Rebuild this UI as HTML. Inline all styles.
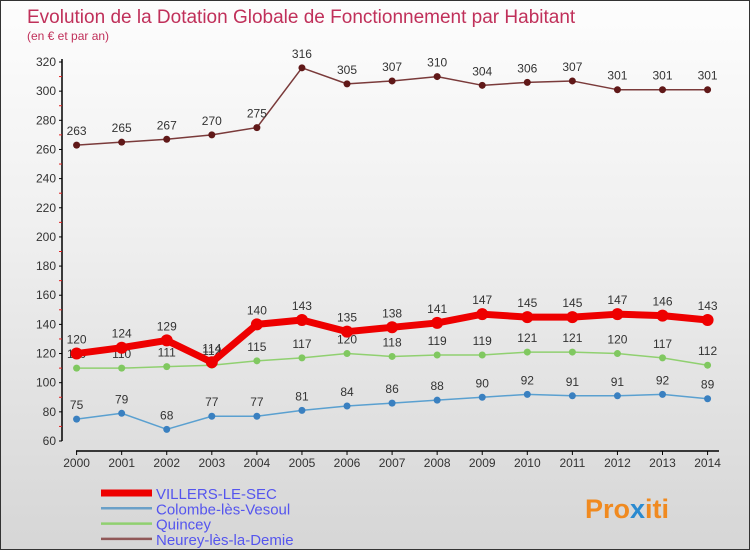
<!DOCTYPE html>
<html><head><meta charset="utf-8"><style>
body{margin:0;}
#c{width:748px;height:548px;border:1px solid #333;background:linear-gradient(#fdfdfd,#f0f0f0 40%,#d6d6d6);position:relative;overflow:hidden;font-family:"Liberation Sans","DejaVu Sans",sans-serif;}
svg{position:absolute;left:0;top:0}
</style></head><body>
<div id="c">
<svg id="s" width="750" height="550">
<text x="26" y="22" font-size="19" fill="#c0305a">Evolution de la Dotation Globale de Fonctionnement par Habitant</text>
<text x="26" y="39" font-size="12" fill="#c0305a">(en € et par an)</text>
<g id="axes"></g><g id="series"></g><g id="legend"></g>
<text x="584" y="517" font-size="27" font-weight="bold" fill="#f08a20">Pro<tspan fill="#2a8ad0">x</tspan>iti</text>
</svg>
</div>
<script>
const years=[2000,2001,2002,2003,2004,2005,2006,2007,2008,2009,2010,2011,2012,2013,2014];
const villers=[120,124,129,114,140,143,135,138,141,147,145,145,147,146,143];
const colombe=[75,79,68,77,77,81,84,86,88,90,92,91,91,92,89];
const quincey=[110,110,111,112,115,117,120,118,119,119,121,121,120,117,112];
const neurey=[263,265,267,270,275,316,305,307,310,304,306,307,301,301,301];
const yTicks=[60,80,100,120,140,160,180,200,220,240,260,280,300,320];
const NS='http://www.w3.org/2000/svg';
const X=i=>75.6+i*45.07, Y=v=>440-(v-60)*(379/260);
function mk(t,a,p){const e=document.createElementNS(NS,t);for(const k in a)e.setAttribute(k,a[k]);p.appendChild(e);return e;}
const ax=document.getElementById('axes');
let l=mk('line',{x1:61,y1:58,x2:61,y2:440,stroke:'#000','stroke-width':1.5},ax);


l=mk('line',{x1:75,y1:450,x2:718,y2:450,stroke:'#000','stroke-width':1.5},ax);


yTicks.forEach(v=>{mk('line',{x1:58,x2:61,y1:Y(v),y2:Y(v),stroke:'#000'},ax);
 if(v<320)mk('line',{x1:58,x2:61,y1:Y(v+10),y2:Y(v+10),stroke:'#e02020'},ax);
 const t=mk('text',{x:55,y:Y(v)+4,'font-size':12,fill:'#333','text-anchor':'end'},ax);t.textContent=v;
 
 });
years.forEach((y,i)=>{mk('line',{x1:X(i),x2:X(i),y1:450,y2:454,stroke:'#000'},ax);
 const t=mk('text',{x:X(i),y:466,'font-size':12,fill:'#333','text-anchor':'middle'},ax);t.textContent=y;
 
 });
const sg=document.getElementById('series');
function series(vals,color,w,r,dot,name){
 const g=mk('g',{},sg);
 
 
 mk('polyline',{points:vals.map((v,i)=>X(i)+','+Y(v)).join(' '),fill:'none',stroke:color,'stroke-width':w,'stroke-linejoin':'round'},g);
 vals.forEach((v,i)=>{const c=mk('circle',{cx:X(i),cy:Y(v),r:r,fill:dot},g);
  
  
  const t=mk('text',{x:X(i),y:Y(v)-10,'font-size':12,fill:'#333','text-anchor':'middle'},g);t.textContent=v;
  
  });
}
series(colombe,'#5aa0d0',1.5,3.5,'#3a80c0','series-colombe');
series(quincey,'#90d070',1.5,3.5,'#80c860','series-quincey');
series(villers,'#ee0000',7,6,'#ee0000','series-villers');
series(neurey,'#7a3a3a',1.5,3.5,'#601818','series-neurey');
const lg=document.getElementById('legend');
[['VILLERS-LE-SEC','#ee0000',7],['Colombe-lès-Vesoul','#6aa0c8',2.5],['Quincey','#90d070',2.5],['Neurey-lès-la-Demie','#905858',2.5]].forEach((e,i)=>{
 const y=492+i*15.3;
 const g=mk('g',{},lg);
 
 
 mk('line',{x1:100,x2:151,y1:y,y2:y,stroke:e[1],'stroke-width':e[2]},g);
 const t=mk('text',{x:155,y:y+6,'font-size':15,fill:'#5555ee'},g);t.textContent=e[0];
});
</script>
</body></html>
